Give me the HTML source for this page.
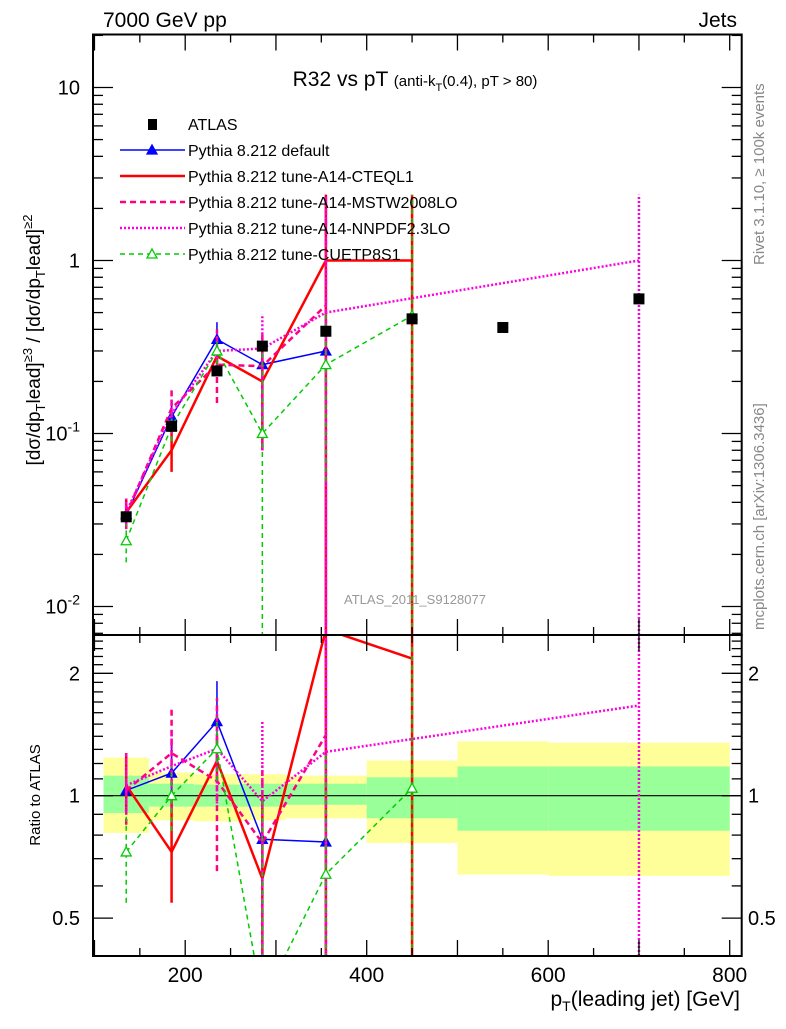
<!DOCTYPE html>
<html><head><meta charset="utf-8"><style>
body{margin:0;background:#fff;width:786px;height:1024px;overflow:hidden}
svg{font-family:"Liberation Sans",sans-serif}
</style></head><body>
<svg id="chart" width="786" height="1024" viewBox="0 0 786 1024" xmlns="http://www.w3.org/2000/svg">
<defs>
<clipPath id="clipMain"><rect x="93" y="34.5" width="648.7" height="600.5"/></clipPath>
<clipPath id="clipRatio"><rect x="93" y="635" width="648.7" height="321"/></clipPath>
</defs>
<g id="bands"></g>
<g id="marksMain" clip-path="url(#clipMain)"></g>
<g id="marksRatio" clip-path="url(#clipRatio)"></g>
<g id="axes"></g>
<text x="103" y="27" font-size="21">7000 GeV pp</text>
<text x="737" y="27" font-size="21" text-anchor="end">Jets</text>
<text x="415" y="86" font-size="21" text-anchor="middle">R32 vs pT <tspan font-size="15">(anti-k</tspan><tspan font-size="11" dy="5">T</tspan><tspan font-size="15" dy="-5">(0.4), pT &gt; 80)</tspan></text>
<text x="764" y="265" font-size="15" fill="#888" transform="rotate(-90 764 265)">Rivet 3.1.10, ≥ 100k events</text>
<text x="764" y="630" font-size="15" fill="#888" transform="rotate(-90 764 630)">mcplots.cern.ch [arXiv:1306.3436]</text>
<text x="415" y="604" font-size="13" fill="#999" text-anchor="middle">ATLAS_2011_S9128077</text>
<text x="40" y="340" font-size="19" text-anchor="middle" transform="rotate(-90 40 340)">[dσ/dp<tspan font-size="13" dy="5">T</tspan><tspan dy="-5">l</tspan>ead]<tspan font-size="13" dy="-8">≥3</tspan><tspan dy="8"> / [dσ/dp</tspan><tspan font-size="13" dy="5">T</tspan><tspan dy="-5">l</tspan>ead]<tspan font-size="13" dy="-8">≥2</tspan></text>
<text x="40" y="795" font-size="15" text-anchor="middle" transform="rotate(-90 40 795)">Ratio to ATLAS</text>
<text x="740" y="1006" font-size="21" text-anchor="end">p<tspan font-size="14" dy="5">T</tspan><tspan dy="-5">(leading jet) [GeV]</tspan></text>
<g id="legend"></g>
</svg>
<script>
const NS="http://www.w3.org/2000/svg";
const centers=[135,185,235,285,355,450,550,700];
const binLo=[110,160,210,260,310,400,500,600];
const binHi=[160,210,260,310,400,500,600,800];
const atlas=[0.033,0.11,0.23,0.32,0.39,0.46,0.41,0.6];
const bandYelLo=[0.81,0.87,0.865,0.87,0.88,0.765,0.64,0.635];
const bandYelHi=[1.24,1.14,1.13,1.13,1.12,1.22,1.36,1.35];
const bandGrnLo=[0.906,0.94,0.94,0.94,0.95,0.88,0.82,0.82];
const bandGrnHi=[1.12,1.07,1.065,1.07,1.07,1.11,1.18,1.18];
const defX=[135,185,235,285,355];
const defY=[0.034,0.125,0.35,0.25,0.30];
const defLo=[0.030,0.10,0.28,0.18,0.10];
const defHi=[0.040,0.15,0.44,0.33,0.50];
const ctqX=[135,185,235,285,355,450];
const ctqY=[0.035,0.08,0.28,0.2,1.0,1.0];
const ctqLo=[0.030,0.06,0.25,0.08,0.001,0.001];
const ctqHi=[0.042,0.11,0.32,0.32,2.4,2.4];
const mstX=[135,185,235,285,355];
const mstY=[0.034,0.14,0.25,0.245,0.55];
const mstLo=[0.028,0.11,0.15,0.08,0.001];
const mstHi=[0.042,0.18,0.40,0.38,2.4];
const nnpX=[135,185,235,285,355,700];
const nnpY=[0.035,0.13,0.3,0.31,0.5,1.0];
const nnpLo=[0.030,0.10,0.22,0.08,0.001,0.001];
const nnpHi=[0.042,0.16,0.38,0.49,2.4,2.4];
const cueX=[135,185,235,285,355,450];
const cueY=[0.024,0.11,0.30,0.10,0.25,0.48];
const cueLo=[0.018,0.09,0.25,0.001,0.053,0.001];
const cueHi=[0.030,0.13,0.36,0.32,0.50,2.4];
const xTickLabels=[200,400,600,800];
const mainYTickLabels=["10","1","10^-1","10^-2"];
const mainYTickVals=[10,1,0.1,0.01];
const ratioTickVals=[0.5,1,2];

const L=93,R=741.7,T=34.5,MB=635,RB=956;
const X=v=>366.7+(v-400)*0.9075;
const Y=v=>260.5-Math.log10(v)*173;
const YR=v=>795.7-Math.log2(v)*122.4;
const cl=(y,a,b)=>Math.max(a-20,Math.min(b+20,y));
const bands=document.getElementById('bands'),mM=document.getElementById('marksMain'),mR=document.getElementById('marksRatio'),axes=document.getElementById('axes'),leg=document.getElementById('legend');
function mk(tag,at,p){const e=document.createElementNS(NS,tag);for(const k in at)e.setAttribute(k,at[k]);p.appendChild(e);return e;}

for(let i=0;i<binLo.length;i++){
 const r=mk('rect',{x:X(binLo[i]),y:YR(bandYelHi[i]),width:X(binHi[i])-X(binLo[i]),height:YR(bandYelLo[i])-YR(bandYelHi[i]),fill:'#ffff99'},bands);
 
 
 const g=mk('rect',{x:X(binLo[i]),y:YR(bandGrnHi[i]),width:X(binHi[i])-X(binLo[i]),height:YR(bandGrnLo[i])-YR(bandGrnHi[i]),fill:'#99ff99'},bands);
 
 
}
mk('line',{x1:L,x2:R,y1:YR(1),y2:YR(1),stroke:'#000','stroke-width':1.2},bands);

const series=[
 {n:'pythia-default',x:defX,y:defY,lo:defLo,hi:defHi,c:'#0000ff',w:1.5,d:'',m:'tri'},
 {n:'pythia-cteql1',x:ctqX,y:ctqY,lo:ctqLo,hi:ctqHi,c:'#ff0000',w:2.5,d:'',m:''},
 {n:'pythia-mstw2008lo',x:mstX,y:mstY,lo:mstLo,hi:mstHi,c:'#ff0080',w:2.5,d:'6,4',m:''},
 {n:'pythia-nnpdf23lo',x:nnpX,y:nnpY,lo:nnpLo,hi:nnpHi,c:'#ff00dd',w:2.5,d:'2,2',m:''},
 {n:'pythia-cuetp8s1',x:cueX,y:cueY,lo:cueLo,hi:cueHi,c:'#00cc00',w:1.5,d:'5,4',m:'otri'}
];
function ratioOf(x,v){const i=centers.indexOf(x);return v/atlas[i];}
series.forEach(s=>{
 const gm=mk('g',{},mM);
 
 
 const gr=mk('g',{},mR);
 
 
 const mp=s.x.map((x,i)=>X(x)+','+Y(s.y[i])).join(' ');
 mk('polyline',{points:mp,fill:'none',stroke:s.c,'stroke-width':s.w,'stroke-dasharray':s.d},gm);
 const rp=s.x.map((x,i)=>X(x)+','+YR(ratioOf(x,s.y[i]))).join(' ');
 mk('polyline',{points:rp,fill:'none',stroke:s.c,'stroke-width':s.w,'stroke-dasharray':s.d},gr);
 s.x.forEach((x,i)=>{
  mk('line',{x1:X(x),x2:X(x),y1:cl(Y(s.lo[i]),T,MB),y2:cl(Y(s.hi[i]),T,MB),stroke:s.c,'stroke-width':s.w,'stroke-dasharray':s.d},gm);
  mk('line',{x1:X(x),x2:X(x),y1:cl(YR(ratioOf(x,s.lo[i])),MB,RB),y2:cl(YR(ratioOf(x,s.hi[i])),MB,RB),stroke:s.c,'stroke-width':s.w,'stroke-dasharray':s.d},gr);
  if(s.m){
   [[Y(s.y[i]),gm],[YR(ratioOf(x,s.y[i])),gr]].forEach(([yy,g])=>{
    const px=X(x);
    const t=mk('polygon',{points:`${px-5},${yy+4} ${px+5},${yy+4} ${px},${yy-5}`,fill:s.m==='tri'?s.c:'#fff',stroke:s.c,'stroke-width':1.3},g);
    
    
   });
  }
 });
});
centers.forEach((x,i)=>{
 const r=mk('rect',{x:X(x)-5.5,y:Y(atlas[i])-5.5,width:11,height:11,fill:'#000'},mM);
 
 
});

mk('rect',{x:L,y:T,width:R-L,height:MB-T,fill:'none',stroke:'#000','stroke-width':2},axes);
mk('rect',{x:L,y:MB,width:R-L,height:RB-MB,fill:'none',stroke:'#000','stroke-width':2},axes);
for(let v=100;v<=800;v+=50){
 const big=v%100===0, px=X(v);
 [[T,1],[MB,-1],[MB,1],[RB,-1]].forEach(([y,dir])=>mk('line',{x1:px,x2:px,y1:y,y2:y+dir*(big?16:8),stroke:'#000','stroke-width':1.3},axes));
}
xTickLabels.forEach(v=>{const t=mk('text',{x:X(v),y:982,'font-size':21,'text-anchor':'middle'},axes);t.textContent=v;
 
 });
for(let e=-3;e<=1;e++)for(let k=1;k<=9;k++){
 const v=k*Math.pow(10,e),py=Y(v);if(py<T||py>MB)continue;
 const len=k===1?20:10;
 mk('line',{x1:L,x2:L+len,y1:py,y2:py,stroke:'#000','stroke-width':1.3},axes);
 mk('line',{x1:R,x2:R-len,y1:py,y2:py,stroke:'#000','stroke-width':1.3},axes);
}
mainYTickVals.forEach((v,i)=>{
 const t=mk('text',{x:80,y:Y(v)+7,'font-size':20,'text-anchor':'end'},axes);
 const lab=mainYTickLabels[i];
 if(lab.includes('^')){const [b,ex]=lab.split('^');t.textContent=b;const s=document.createElementNS(NS,'tspan');s.setAttribute('dy','-9');s.setAttribute('font-size','14');s.textContent=ex;t.appendChild(s);}
 else t.textContent=lab;
 
 
});
for(let v=0.4;v<=2.5;v+=0.1){
 const py=YR(v);if(py<MB||py>RB)continue;
 const big=Math.abs(v-0.5)<1e-6||Math.abs(v-1)<1e-6||Math.abs(v-2)<1e-6;
 mk('line',{x1:L,x2:L+(big?20:10),y1:py,y2:py,stroke:'#000','stroke-width':1.3},axes);
 mk('line',{x1:R,x2:R-(big?20:10),y1:py,y2:py,stroke:'#000','stroke-width':1.3},axes);
}
ratioTickVals.forEach(v=>{
 const t=mk('text',{x:80,y:YR(v)+7,'font-size':20,'text-anchor':'end'},axes);t.textContent=v;
 
 
 const t2=mk('text',{x:748,y:YR(v)+7,'font-size':20},axes);t2.textContent=v;
 
 
});
const legNames=['ATLAS','Pythia 8.212 default','Pythia 8.212 tune-A14-CTEQL1','Pythia 8.212 tune-A14-MSTW2008LO','Pythia 8.212 tune-A14-NNPDF2.3LO','Pythia 8.212 tune-CUETP8S1'];
legNames.forEach((nm,i)=>{
 const y=124+i*26;
 const g=mk('g',{},leg);
 
 
 if(i===0)mk('rect',{x:148,y:y-5,width:9,height:11,fill:'#000'},g);
 else{const s=series[i-1];
  mk('line',{x1:120,x2:185,y1:y,y2:y,stroke:s.c,'stroke-width':s.w,'stroke-dasharray':s.d},g);
  if(s.m)mk('polygon',{points:`${147},${y+4} ${157},${y+4} ${152},${y-5}`,fill:s.m==='tri'?s.c:'#fff',stroke:s.c,'stroke-width':1.3},g);}
 const t=mk('text',{x:188,y:y+6,'font-size':16},g);t.textContent=nm;
});
</script>
</body></html>
